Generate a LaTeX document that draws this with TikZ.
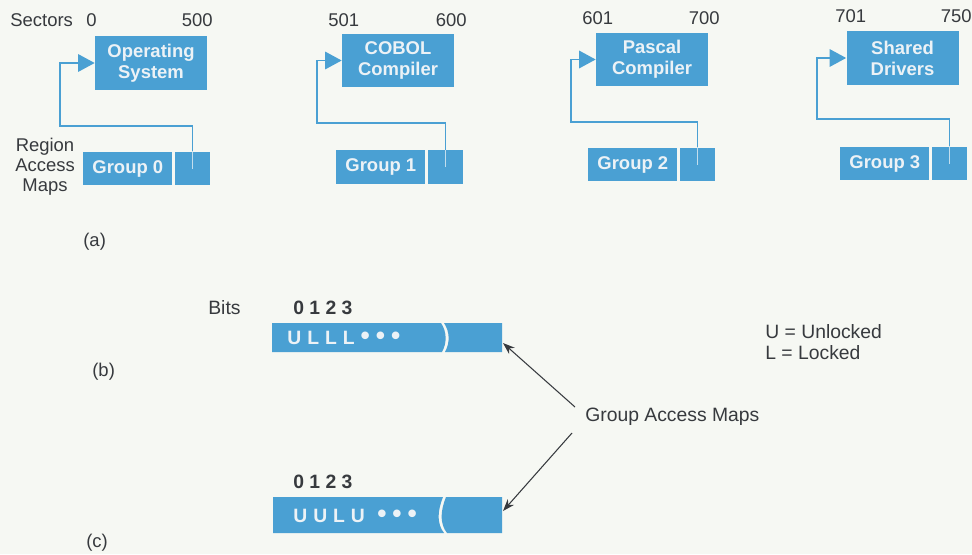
\documentclass[tikz,border=0pt]{standalone}
\usepackage{fontspec}
\setmainfont{Liberation Sans}
\usetikzlibrary{positioning, arrows.meta, calc}
\definecolor{hpblue}{RGB}{74,160,211}
\definecolor{hppaper}{RGB}{246,248,243}
\definecolor{hpink}{RGB}{55,58,62}
\definecolor{hpwhite}{RGB}{236,242,246}
\newcommand{\bitgap}{\hspace{3.4pt}}
\newcommand{\bitdot}{{\fontsize{15}{12}\selectfont\textbullet}}

\begin{document}
\begin{tikzpicture}[
    x=0.02cm, y=-0.02cm,
    lbl/.style = {text=hpink, inner sep=0pt,
                  font=\fontsize{10.5}{11.4}\selectfont},
    biglbl/.style = {lbl, font=\fontsize{11}{12}\selectfont},
    progbox/.style = {fill=hpblue, text=hpwhite, inner sep=0pt,
                      minimum width=2.24cm, minimum height=1.08cm,
                      align=center, font=\fontsize{10.5}{12}\selectfont\bfseries},
    grpbox/.style = {fill=hpblue, text=hpwhite, inner sep=0pt,
                     minimum width=1.78cm, minimum height=0.68cm,
                     font=\fontsize{10.5}{12}\selectfont\bfseries},
    slotbox/.style = {fill=hpblue, inner sep=0pt,
                      minimum width=0.7cm, minimum height=0.68cm},
    link/.style = {draw=hpblue, line width=0.8pt,
                   -{Triangle[length=3.3mm, width=3.5mm]}},
    stub/.style = {draw=hpwhite!75!hpblue, line width=0.8pt},
    pointer/.style = {draw=hpink, line width=0.6pt,
                      -{Stealth[length=2.4mm, width=1.7mm]}},
    bar/.style = {fill=hpblue},
    bitsym/.style = {text=hpwhite, inner sep=0pt, anchor=west,
                     font=\fontsize{11}{12}\selectfont\bfseries},
  ]
    \fill[hppaper] (0,0) rectangle (972,554);
    \useasboundingbox (0,0) rectangle (972,554);

    % (a) region access maps
    \node[progbox] (prog0) at (151,63)   {Operating\\System};
    \node[progbox] (prog1) at (398,60.5) {COBOL\\Compiler};
    \node[progbox] (prog2) at (652,59.5) {Pascal\\Compiler};
    \node[progbox] (prog3) at (902.5,58) {Shared\\Drivers};

    \node[slotbox] (slot0) at (192.5,168.5) {};
    \node[slotbox] (slot1) at (445.5,167)   {};
    \node[slotbox] (slot2) at (697.5,164.5) {};
    \node[slotbox] (slot3) at (949.5,163.5) {};
    \node[grpbox, left=0.04cm of slot0] (grp0) {Group 0};
    \node[grpbox, left=0.04cm of slot1] (grp1) {Group 1};
    \node[grpbox, left=0.04cm of slot2] (grp2) {Group 2};
    \node[grpbox, left=0.04cm of slot3] (grp3) {Group 3};

    \coordinate (bend0) at (60,126);
    \coordinate (bend1) at (317,123);
    \coordinate (bend2) at (571,122);
    \coordinate (bend3) at (817,119);
    \draw[link] (slot0.center) |- (bend0) |- (prog0.west);
    \draw[link] (slot1.center) |- (bend1) |- (prog1.west);
    \draw[link] (slot2.center) |- (bend2) |- (prog2.west);
    \draw[link] (slot3.center) |- (bend3) |- (prog3.west);
    \draw[stub] (slot0.center) -- (slot0.north);
    \draw[stub] (slot1.center) -- (slot1.north);
    \draw[stub] (slot2.center) -- (slot2.north);
    \draw[stub] (slot3.center) -- (slot3.north);

    \node[lbl, anchor=west] (sectors) at (10,20) {Sectors};
    \node[lbl, anchor=west] (lo0) at (86,20)  {0};
    \node[lbl, anchor=east] (hi0) at (213,20) {500};
    \node[lbl, anchor=west] (lo1) at (328,20) {501};
    \node[lbl, anchor=east] (hi1) at (467,20) {600};
    \node[lbl, anchor=west] (lo2) at (582,18) {601};
    \node[lbl, anchor=east] (hi2) at (720,18) {700};
    \node[lbl, anchor=west] (lo3) at (835,16) {701};
    \node[lbl, anchor=east] (hi3) at (972,16) {750};
    \node[lbl, align=center] (ram) at (45,167) {Region\\Access\\Maps};
    \node[lbl, anchor=west] (taga) at (83,242) {(a)};

    % (b) group access map
    \node[biglbl, anchor=west] (bits) at (208,308) {Bits};
    \node[biglbl, anchor=west, font=\fontsize{11}{12}\selectfont\bfseries]
      (numb) at (293,308) {0 1 2 3};
    \fill[bar] (272,323) -- (441,323) .. controls (447,332) and (447,343) .. (442,352)
      -- (272,352) -- cycle;
    \fill[bar] (444,323) -- (502,323) -- (502,352) -- (445,352)
      .. controls (450,343) and (450,332) .. (444,323) -- cycle;
    \node[bitsym] (mapb) at (287,338)
      {U\bitgap L\bitgap L\bitgap L\bitgap\bitdot\bitgap\bitdot\bitgap\bitdot};
    \node[lbl, anchor=west] (tagb) at (92,372) {(b)};

    % (c) group access map
    \node[biglbl, anchor=west, font=\fontsize{11}{12}\selectfont\bfseries]
      (numc) at (293,482) {0 1 2 3};
    \fill[bar] (273,497) -- (443,497) .. controls (437,512) and (437,524) .. (444,533)
      -- (273,533) -- cycle;
    \fill[bar] (446,497) -- (502,497) -- (502,533) -- (447,533)
      .. controls (440,524) and (440,512) .. (446,497) -- cycle;
    \node[bitsym] (mapc) at (293,516)
      {U\bitgap U\bitgap L\bitgap U\hspace{7pt}\bitdot\bitgap\bitdot\bitgap\bitdot};
    \node[lbl, anchor=west] (tagc) at (86,543) {(c)};

    % legend and pointers
    \node[biglbl, anchor=west, align=left] (legend) at (765,342)
      {U = Unlocked\\L = Locked};
    \node[biglbl, anchor=west] (gam) at (585,417) {Group Access Maps};
    \coordinate (mapbEnd) at (503,343);
    \coordinate (mapcEnd) at (503,511);
    \draw[pointer] ($(gam.west)+(-10,-10)$) -- (mapbEnd);
    \draw[pointer] ($(gam.west)+(-13,16)$) -- (mapcEnd);
\end{tikzpicture}
\end{document}
